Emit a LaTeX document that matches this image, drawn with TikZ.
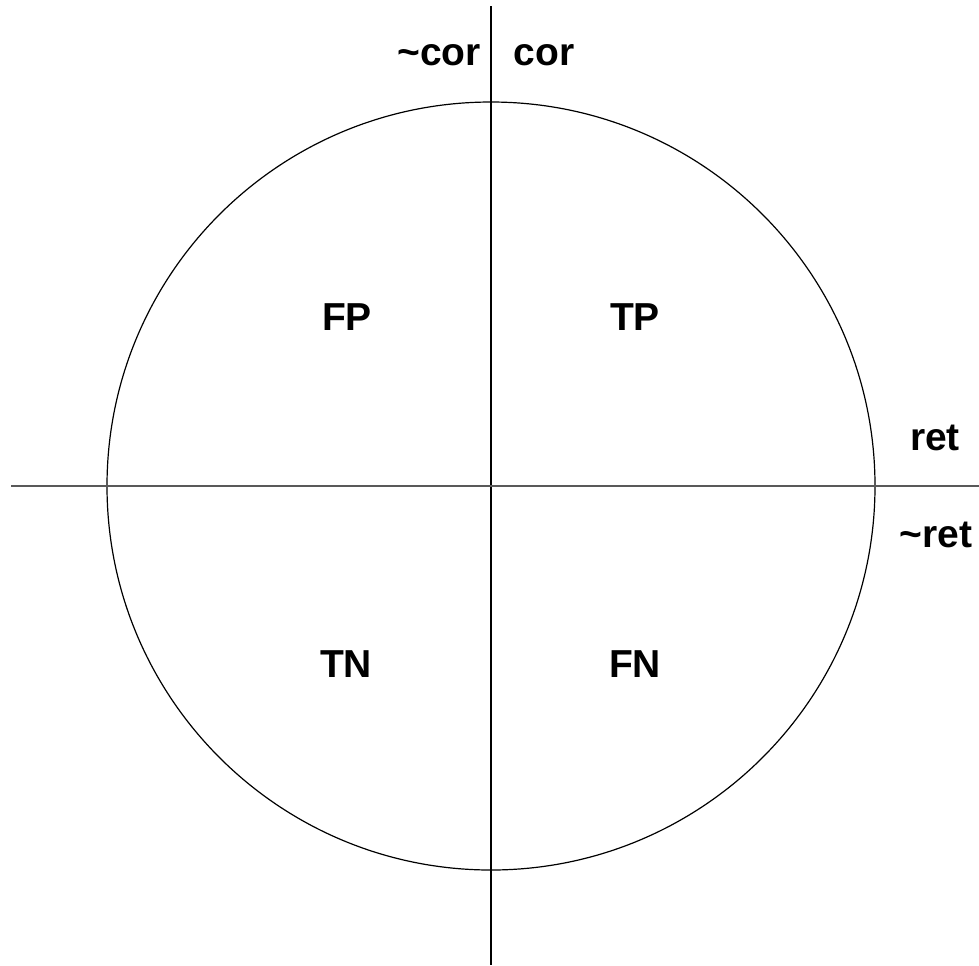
\documentclass[tikz,border=0pt]{standalone}
\usepackage{fontspec}
\setmainfont{Liberation Sans}
\usetikzlibrary{positioning}

\begin{document}
\begin{tikzpicture}[x=0.5pt,y=-0.5pt,
   txt/.style={font=\fontsize{19.5}{23}\selectfont\bfseries, anchor=base, inner sep=0pt},
   axis/.style={line width=0.75pt}]
\useasboundingbox (0,0) rectangle (979,965);
% circle and axes
\node[draw, circle, line width=0.6pt, minimum size=384pt, inner sep=0pt] (ring) at (491,486) {};
\coordinate (top) at (491,6);
\coordinate (bot) at (491,965);
\coordinate (lft) at (11,486);
\coordinate (rgt) at (979,486);
\draw[axis] (top) -- (bot);
\draw[axis, black!65] (lft) -- (rgt);
% quadrants
\node[txt] (fp) at (347,330) {FP};
\node[txt] (tp) at (635,330) {TP};
\node[txt] (tn) at (346,677) {TN};
\node[txt] (fn) at (635,677) {FN};
% axis labels
\node[txt] (ncor) at (439,65) {\textasciitilde cor};
\node[txt] (cor) at (544,65) {cor};
\node[txt] (ret) at (935,450) {ret};
\node[txt] (nret) at (936,547) {\textasciitilde ret};
\end{tikzpicture}
\end{document}
